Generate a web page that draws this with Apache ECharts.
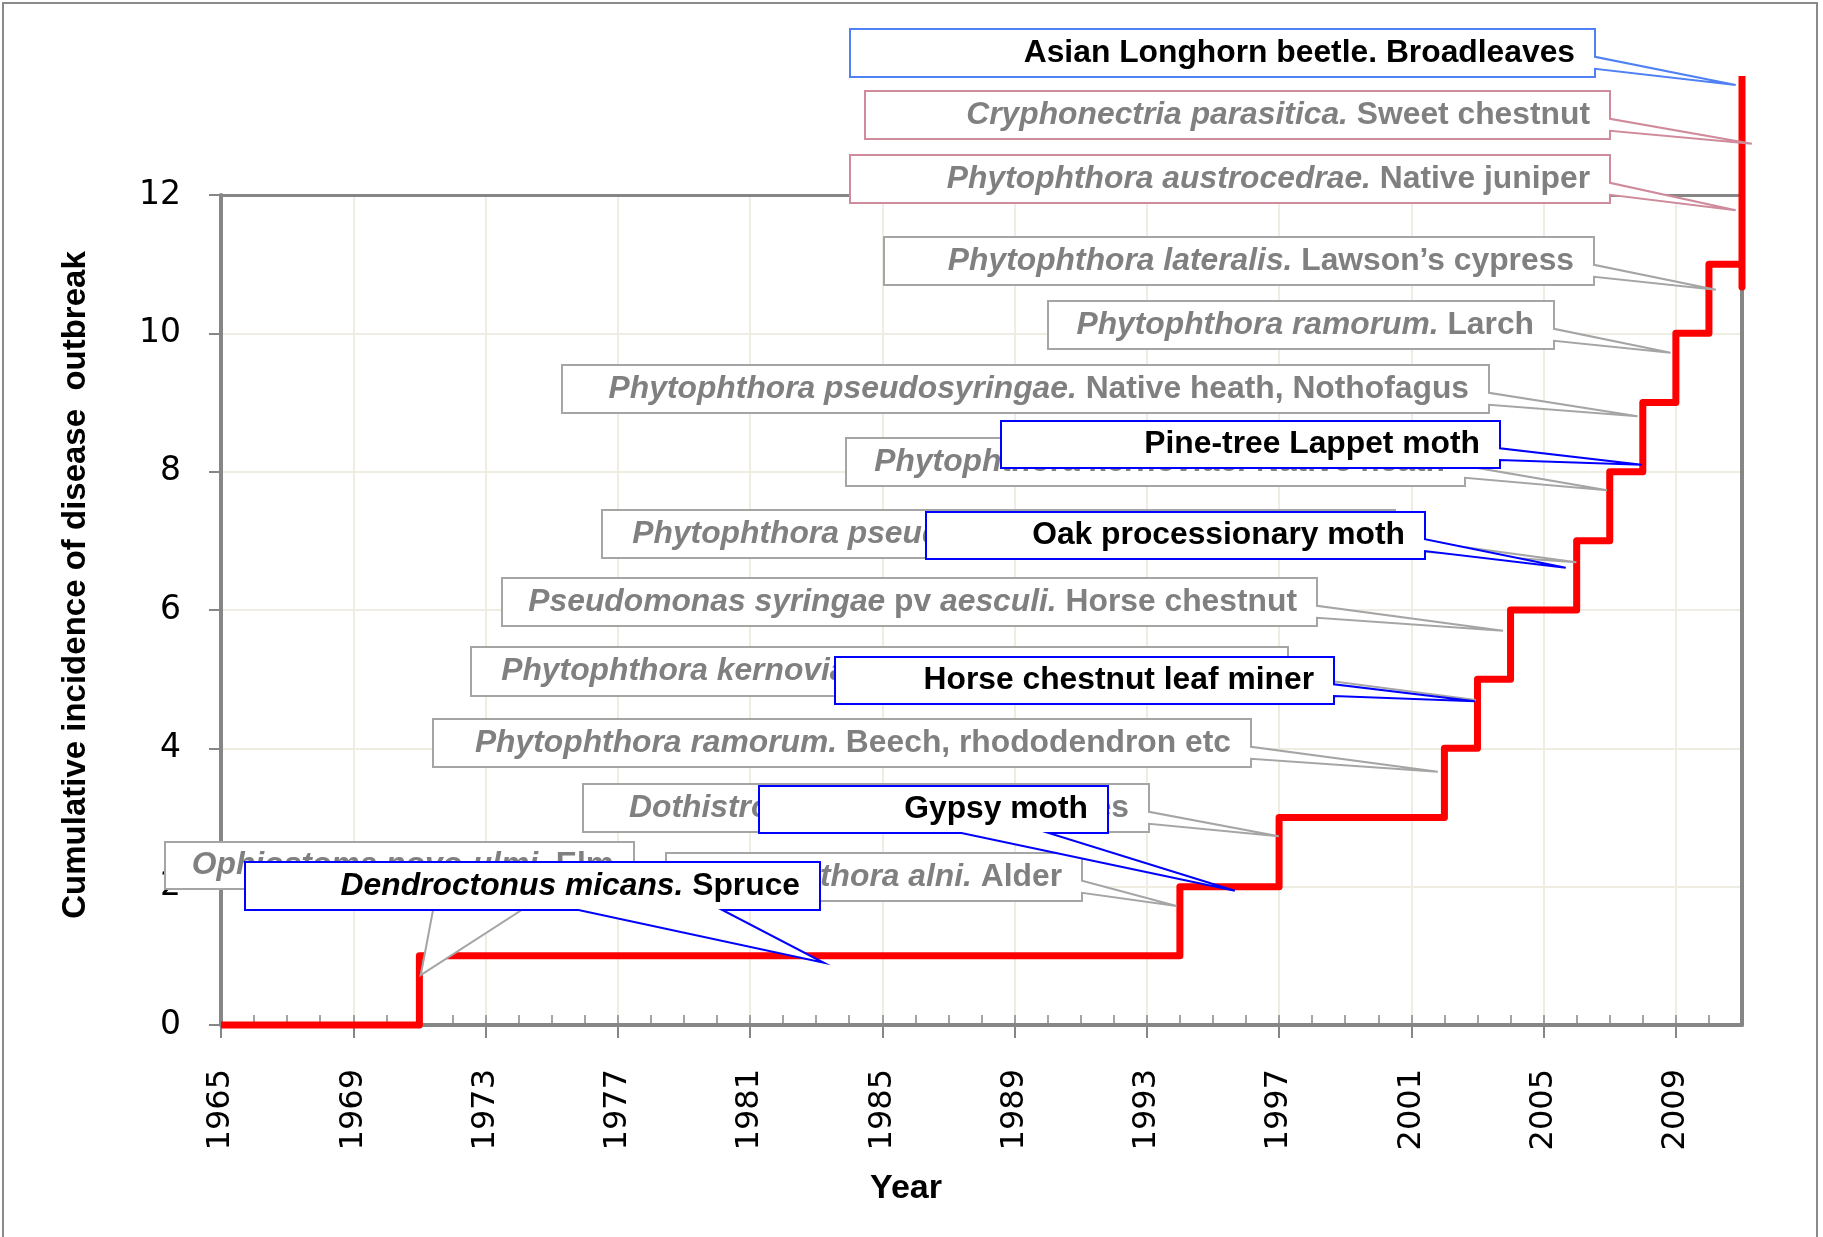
<!DOCTYPE html>
<html>
<head>
<meta charset="utf-8">
<script src="https://cdn.jsdelivr.net/npm/echarts@6/dist/echarts.min.js"></script>
<style>
html, body { margin: 0; padding: 0; background: #fff; }
#main { width: 1823px; height: 1237px; }
</style>
</head>
<body>
<div id="main"></div>
<script>
// cumulative outbreaks, drawn as a step line
var stepYears  = [1965, 1971, 1994, 1997, 2002, 2003, 2004, 2006, 2007, 2008, 2009, 2010, 2011, 2011, 2011];
var stepCounts = [0, 1, 2, 3, 4, 5, 6, 7, 8, 9, 10, 11, 11, 10.67, 13.72];

var xTickYears = [1965, 1969, 1973, 1977, 1981, 1985, 1989, 1993, 1997, 2001, 2005, 2009];

// callouts, in drawing order (later ones sit on top)
var noteText = [
    '{i|Ophiostoma novo-ulmi.}{n| Elm}',
    '{i|Phytophthora alni.}{n| Alder}',
    '{i|Dendroctonus micans.}{n| Spruce}',
    '{i|Dothistroma septosporum.}{n| Pines}',
    '{n|Gypsy moth}',
    '{i|Phytophthora ramorum.}{n| Beech, rhododendron etc}',
    '{i|Phytophthora kernoviae.}{n| Beech, rhododendron etc}',
    '{n|Horse chestnut leaf miner}',
    '{i|Pseudomonas syringae}{n| pv }{i|aesculi.}{n| Horse chestnut}',
    '{i|Phytophthora pseudosyringae.}{n| Beech, Nothofagus}',
    '{n|Oak processionary moth}',
    '{i|Phytophthora kernoviae.}{n| Native heath}',
    '{n|Pine-tree Lappet moth}',
    '{i|Phytophthora pseudosyringae.}{n| Native heath, Nothofagus}',
    '{i|Phytophthora ramorum.}{n| Larch}',
    '{i|Phytophthora lateralis.}{n| Lawson\u2019s cypress}',
    '{i|Phytophthora austrocedrae.}{n| Native juniper}',
    '{i|Cryphonectria parasitica.}{n| Sweet chestnut}',
    '{n|Asian Longhorn beetle. Broadleaves}'
];
// where each callout points (year, cumulative count)
var noteYear  = [1971.04, 1993.90, 1983.23, 1996.99, 1995.66, 2001.80, 2002.95, 2002.92, 2003.77, 2005.99,
                 2005.67, 2006.92, 2007.97, 2007.84, 2008.84, 2010.21, 2010.81, 2011.30, 2010.81];
var noteValue = [0.72, 1.72, 0.90, 2.73, 1.94, 3.66, 4.70, 4.68, 5.70, 6.69,
                 6.61, 7.73, 8.10, 8.80, 9.72, 10.63, 11.78, 12.74, 13.59];

// box layout: left, top, right, bottom, wedge edge, colour, text right padding
var noteBoxes = [
    [165, 842, 634, 889, 'bottom', 'grey', 20],
    [666, 853, 1082, 901, 'right', 'grey', 20],
    [245, 862, 820, 910, 'bottom', 'blue', 20],
    [583, 784, 1149, 832, 'right', 'grey', 20],
    [759, 786, 1108, 833, 'bottom', 'blue', 20],
    [433, 719, 1251, 767, 'right', 'grey', 20],
    [471, 647, 1288, 696, 'right', 'grey', 20],
    [835, 657, 1334, 704, 'right', 'blue', 20],
    [502, 578, 1317, 626, 'right', 'grey', 20],
    [602, 510, 1395, 558, 'right', 'grey', -4],
    [926, 512, 1425, 559, 'right', 'blue', 20],
    [846, 438, 1465, 486, 'right', 'grey', 20],
    [1001, 421, 1500, 468, 'right', 'blue', 20],
    [562, 365, 1489, 413, 'right', 'grey', 20],
    [1048, 301, 1554, 349, 'right', 'grey', 20],
    [884, 237, 1594, 285, 'right', 'grey', 20],
    [850, 155, 1610, 203, 'right', 'pink', 20],
    [865, 91, 1610, 139, 'right', 'pink', 20],
    [850, 29, 1595, 77, 'right', 'sky', 20]
];

var FONT = 'Liberation Sans, Arial, sans-serif';
var TICK_FONT = 'DejaVu Sans, Verdana, sans-serif';
var AXIS_GREY = '#868686';

function richFor(col) {
    return {
        i: { fill: col, fontSize: 31.8, fontWeight: 'bold', fontStyle: 'italic', fontFamily: FONT },
        n: { fill: col, fontSize: 31.8, fontWeight: 'bold', fontFamily: FONT }
    };
}
var palette = {
    grey: { border: '#a5a5a5', rich: richFor('#808080') },
    pink: { border: '#cf8a9b', rich: richFor('#808080') },
    sky:  { border: '#4f81f4', rich: richFor('#000000') },
    blue: { border: '#0000ff', rich: richFor('#000000') }
};

var stepData = stepYears.map(function (y, i) { return [y, stepCounts[i]]; });
var noteData = noteYear.map(function (y, i) { return [y, noteValue[i]]; });

function renderNote(params, api) {
    var i = params.dataIndex;
    var tip = api.coord([api.value(0), api.value(1)]);
    var b = noteBoxes[i];
    var L = b[0], T = b[1], R = b[2], B = b[3];
    var w = R - L, h = B - T;
    var pts;
    if (b[4] === 'right') {
        pts = [[L, T], [R, T], [R, T + 0.58 * h], tip, [R, T + 0.83 * h], [R, B], [L, B]];
    } else {
        pts = [[L, T], [R, T], [R, B], [L + 0.83 * w, B], tip, [L + 0.58 * w, B], [L, B]];
    }
    var c = palette[b[5]];
    return {
        type: 'group',
        children: [
            {
                type: 'polygon',
                shape: { points: pts },
                style: { fill: '#ffffff', stroke: c.border, lineWidth: 2 }
            },
            {
                type: 'text',
                style: {
                    text: noteText[i],
                    rich: c.rich,
                    x: R - b[6],
                    y: (T + B) / 2,
                    align: 'right',
                    verticalAlign: 'middle',
                    fontSize: 31.8,
                    fontWeight: 'bold',
                    fontFamily: FONT
                }
            }
        ]
    };
}

var chart = echarts.init(document.getElementById('main'));
var option = {
    animation: false,
    backgroundColor: '#ffffff',
    grid: { left: 221, top: 195, width: 1521, height: 830 },
    xAxis: [
        {
            type: 'value', min: 1965, max: 2011, interval: 4,
            axisLine: { show: true, lineStyle: { color: AXIS_GREY, width: 4 } },
            axisTick: { show: true, length: 13, customValues: xTickYears, lineStyle: { color: AXIS_GREY, width: 2 } },
            axisLabel: {
                customValues: xTickYears, rotate: 90, margin: 44,
                fontSize: 32, color: '#000', fontFamily: TICK_FONT,
                formatter: function (v) { return String(v); }
            },
            splitLine: { show: true, lineStyle: { color: '#efede2', width: 2 } }
        },
        {
            // yearly ticks pointing inwards
            type: 'value', min: 1965, max: 2011, interval: 1, position: 'bottom',
            axisLine: { show: false },
            axisTick: { show: true, inside: true, length: 10, lineStyle: { color: AXIS_GREY, width: 1.5 } },
            axisLabel: { show: false },
            splitLine: { show: false }
        },
        {
            // top frame
            type: 'value', min: 1965, max: 2011, position: 'top', z: 3,
            axisLine: { show: true, lineStyle: { color: AXIS_GREY, width: 3 } },
            axisTick: { show: false }, axisLabel: { show: false }, splitLine: { show: false }
        }
    ],
    yAxis: [
        {
            type: 'value', min: 0, max: 12, interval: 2,
            axisLine: { show: true, lineStyle: { color: AXIS_GREY, width: 4 } },
            axisTick: { show: true, length: 12, lineStyle: { color: AXIS_GREY, width: 2 } },
            axisLabel: { fontSize: 33, margin: 40, color: '#000', fontFamily: TICK_FONT },
            splitLine: { show: true, lineStyle: { color: '#efede2', width: 2 } }
        },
        {
            // right frame
            type: 'value', min: 0, max: 12, position: 'right', z: 3,
            axisLine: { show: true, lineStyle: { color: AXIS_GREY, width: 4 } },
            axisTick: { show: false }, axisLabel: { show: false }, splitLine: { show: false }
        }
    ],
    graphic: [
        {
            type: 'rect', silent: true, z: -1,
            shape: { x: 3, y: 3, width: 1814, height: 1245 },
            style: { fill: 'none', stroke: '#8a8a8a', lineWidth: 2 }
        },
        {
            type: 'text', x: 76, y: 585, rotation: Math.PI / 2,
            style: {
                text: 'Cumulative incidence of disease  outbreak',
                fontSize: 33, fontWeight: 'bold', fontFamily: FONT, fill: '#000',
                align: 'center', verticalAlign: 'middle'
            }
        },
        {
            type: 'text', x: 906, y: 1189,
            style: {
                text: 'Year',
                fontSize: 34, fontWeight: 'bold', fontFamily: FONT, fill: '#000',
                align: 'center', verticalAlign: 'middle'
            }
        }
    ],
    series: [
        {
            name: 'Cumulative incidence',
            type: 'line',
            step: 'end',
            xAxisIndex: 0, yAxisIndex: 0,
            data: stepData,
            symbol: 'none',
            clip: false,
            z: 4,
            lineStyle: { color: '#ff0000', width: 7, join: 'round', cap: 'butt' }
        },
        {
            name: 'Outbreaks',
            type: 'custom',
            xAxisIndex: 0, yAxisIndex: 0,
            data: noteData,
            clip: false,
            z: 5,
            renderItem: renderNote
        }
    ]
};
chart.setOption(option);
</script>
</body>
</html>
